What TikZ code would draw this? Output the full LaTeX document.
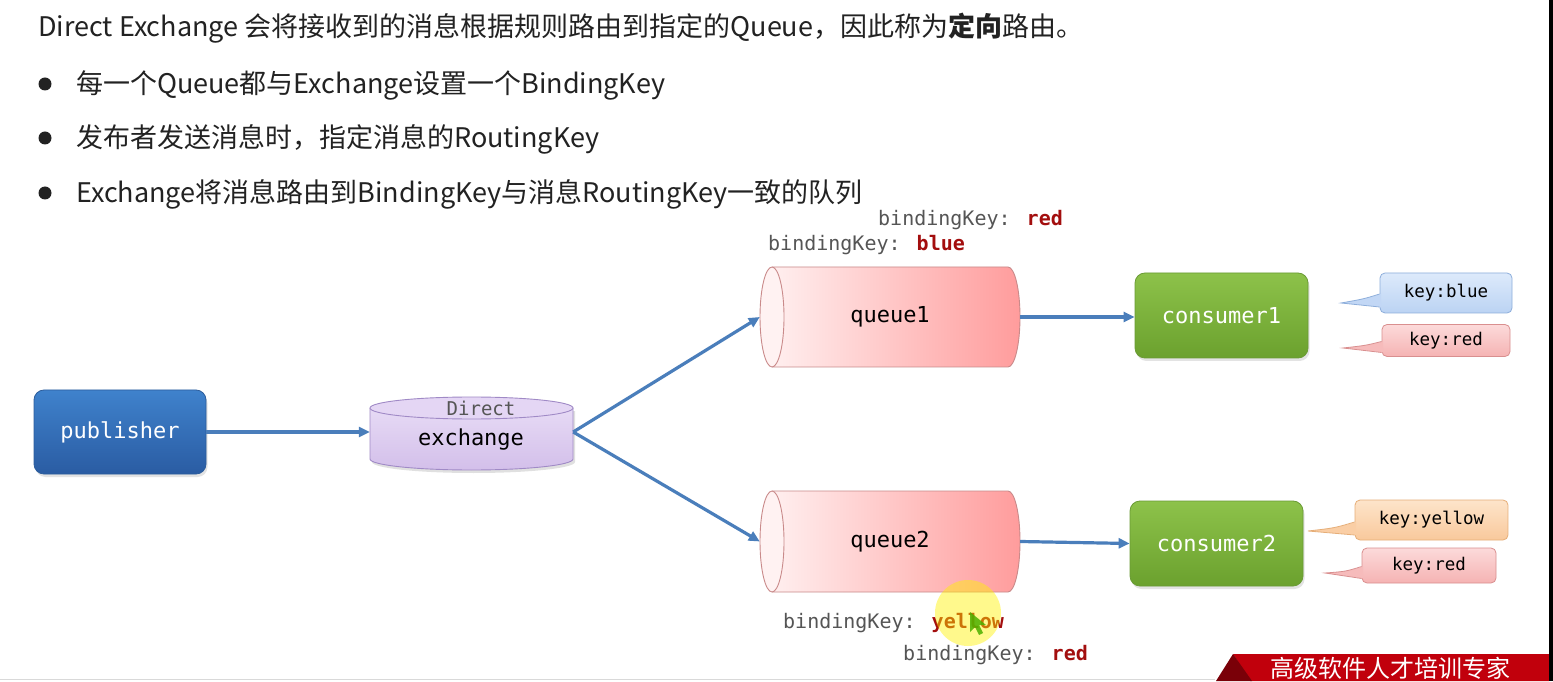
\documentclass[tikz,border=0pt]{standalone}
\usepackage{fontspec}
\setmainfont{Noto Sans CJK SC}
\newfontfamily\mono{DejaVu Sans Mono}
\usetikzlibrary{arrows.meta,calc,shadows}
\definecolor{txt}{HTML}{222222}
\definecolor{flowc}{HTML}{4A7EBB}
\definecolor{pubTop}{HTML}{3F82CC}
\definecolor{pubBot}{HTML}{2A5CA3}
\definecolor{pubBorder}{HTML}{2C5D9C}
\definecolor{conTop}{HTML}{8DC24A}
\definecolor{conBot}{HTML}{6BA12E}
\definecolor{conBorder}{HTML}{6A9B35}
\definecolor{exTop}{HTML}{EADFF7}
\definecolor{exBot}{HTML}{D3BFEA}
\definecolor{exFace}{HTML}{E4D6F4}
\definecolor{exBorder}{HTML}{A08AC6}
\definecolor{qLeft}{HTML}{FFF3F3}
\definecolor{qRight}{HTML}{FF9C9C}
\definecolor{qFace}{HTML}{FFF2F2}
\definecolor{qBorder}{HTML}{C98A8A}
\definecolor{kbTop}{HTML}{DDEAFB}
\definecolor{kbBot}{HTML}{BBD3F3}
\definecolor{kbBorder}{HTML}{8DAEDB}
\definecolor{krTop}{HTML}{FCDADA}
\definecolor{krBot}{HTML}{F5B3B3}
\definecolor{krBorder}{HTML}{D98F8F}
\definecolor{kyTop}{HTML}{FDE4CA}
\definecolor{kyBot}{HTML}{F9C99C}
\definecolor{kyBorder}{HTML}{E6AE78}
\definecolor{bkGray}{HTML}{555555}
\definecolor{bkRed}{HTML}{A30E0E}
\definecolor{bannerRed}{HTML}{C1000C}
\definecolor{bannerDark}{HTML}{7A0008}
\begin{document}
\begin{tikzpicture}[x=1pt,y=1pt,
  flow/.style={draw=flowc, line width=3.2pt, -{Triangle[length=11pt,width=10pt]}},
  bigtext/.style={anchor=base west, inner sep=0pt, text=txt, font=\fontsize{27}{31}\selectfont},
  bulletdot/.style={circle, fill=txt, minimum size=13pt, inner sep=0pt},
  softshadow/.style={drop shadow={opacity=0.22, shadow xshift=1.5pt, shadow yshift=-3pt}},
  pubbox/.style={rectangle, rounded corners=10pt, minimum width=172pt, minimum height=84pt,
     top color=pubTop, bottom color=pubBot, draw=pubBorder, line width=0.8pt, softshadow,
     text=white, font=\mono\fontsize{22}{26}\selectfont},
  conbox/.style={rectangle, rounded corners=10pt, minimum width=173pt, minimum height=85pt,
     top color=conTop, bottom color=conBot, draw=conBorder, line width=0.8pt, softshadow,
     text=white, font=\mono\fontsize{22}{26}\selectfont},
  qnode/.style={minimum width=260pt, minimum height=100pt, inner sep=0pt, text=black,
     font=\mono\fontsize{22}{26}\selectfont},
  keybox/.style={rectangle, rounded corners=5pt, line width=0.8pt, inner sep=0pt,
     text=black, font=\mono\fontsize{17.5}{21}\selectfont},
  bk/.style={anchor=west, inner sep=0pt, text=bkGray, font=\mono\fontsize{20}{24}\selectfont}
]
\useasboundingbox (0,0) rectangle (1553,681);
\fill[white] (0,0) rectangle (1553,681);

% heading and bullets
\node[bigtext] (title) at (38,644) {Direct Exchange 会将接收到的消息根据规则路由到指定的Queue，因此称为\textbf{定向}路由。};
\node[bulletdot] (d1) at (45,597) {};
\node[bulletdot] (d2) at (45,543) {};
\node[bulletdot] (d3) at (45,488) {};
\node[bigtext] (t1) at (76,587) {每一个Queue都与Exchange设置一个BindingKey};
\node[bigtext] (t2) at (76,533) {发布者发送消息时，指定消息的RoutingKey};
\node[bigtext] (t3) at (76,478) {Exchange将消息路由到BindingKey与消息RoutingKey一致的队列};

% publisher
\node[pubbox] (pub) at (120,249) {publisher};

% exchange cylinder
\fill[black, opacity=0.12] (372,270) -- (372,219) arc[start angle=180,end angle=360,x radius=101.5,y radius=11] -- (575,270) -- cycle;
\shade[top color=exTop, bottom color=exBot] (370,273) -- (370,222) arc[start angle=180,end angle=360,x radius=101.5,y radius=11] -- (573,273) arc[start angle=0,end angle=180,x radius=101.5,y radius=11] -- cycle;
\draw[exBorder, line width=0.9pt] (370,273) -- (370,222) arc[start angle=180,end angle=360,x radius=101.5,y radius=11] -- (573,273);
\draw[exBorder, line width=0.9pt, fill=exFace] (471.5,273) ellipse[x radius=101.5,y radius=11];
\node[minimum width=203pt, minimum height=76pt, inner sep=0pt] (ex) at (471.5,249) {};
\node[inner sep=0pt, text=bkGray, font=\mono\fontsize{19}{22}\selectfont] (exd) at (481,273) {Direct};
\node[inner sep=0pt, text=black, font=\mono\fontsize{22}{26}\selectfont] (exl) at (471,241) {exchange};

% queue1 cylinder
\shade[left color=qLeft, right color=qRight] (772,414) -- (1008,414) arc[start angle=90,end angle=-90,x radius=12,y radius=50] -- (772,314) arc[start angle=270,end angle=90,x radius=12,y radius=50] -- cycle;
\draw[qBorder, line width=0.9pt] (772,414) -- (1008,414) arc[start angle=90,end angle=-90,x radius=12,y radius=50] -- (772,314);
\draw[qBorder, line width=0.9pt, fill=qFace] (772,364) ellipse[x radius=12,y radius=50];
\node[qnode] (q1) at (890,364) {queue1};

% queue2 cylinder
\shade[left color=qLeft, right color=qRight] (772,190) -- (1008,190) arc[start angle=90,end angle=-90,x radius=12,y radius=50.5] -- (772,89) arc[start angle=270,end angle=90,x radius=12,y radius=50.5] -- cycle;
\draw[qBorder, line width=0.9pt] (772,190) -- (1008,190) arc[start angle=90,end angle=-90,x radius=12,y radius=50.5] -- (772,89);
\draw[qBorder, line width=0.9pt, fill=qFace] (772,139.5) ellipse[x radius=12,y radius=50.5];
\node[qnode] (q2) at (890,139.5) {queue2};

% consumers
\node[conbox] (c1) at (1221.5,365.5) {consumer1};
\node[conbox] (c2) at (1216.5,137.5) {consumer2};

% connectors
\draw[flow] (pub.east) -- (pub.east -| ex.west);
\draw[flow] (ex.east) -- (q1.west);
\draw[flow] (ex.east) -- (q2.west);
\draw[flow] (q1.east) -- (q1.east -| c1.west);
\draw[flow] (q2.east) -- (c2.west);

% key callouts
\node[keybox, top color=kbTop, bottom color=kbBot, draw=kbBorder, minimum width=132pt, minimum height=40pt] (kb) at (1446,388) {key:blue};
\node[keybox, top color=krTop, bottom color=krBot, draw=krBorder, minimum width=128pt, minimum height=32pt] (kr1) at (1446,340.5) {key:red};
\node[keybox, top color=kyTop, bottom color=kyBot, draw=kyBorder, minimum width=153pt, minimum height=40pt] (ky) at (1431.5,161) {key:yellow};
\node[keybox, top color=krTop, bottom color=krBot, draw=krBorder, minimum width=134pt, minimum height=35pt] (kr2) at (1429,115.5) {key:red};

\coordinate (tb) at (1341,378);
\coordinate (tr1) at (1343,333);
\coordinate (ty) at (1308,150);
\coordinate (tr2) at (1325,108);

\fill[kbBot!80!kbTop] ($(kb.west)+(1.5,-1)$) .. controls ($(kb.west)+(-16,-6)$) .. (tb) -- ($(kb.west)+(1.5,-14)$) -- cycle;
\draw[kbBorder, line width=0.8pt] ($(kb.west)+(0,-1)$) .. controls ($(kb.west)+(-16,-6)$) .. (tb) -- ($(kb.west)+(0,-14)$);
\fill[krBot!80!krTop] ($(kr1.west)+(1.5,-1)$) .. controls ($(kr1.west)+(-16,-5)$) .. (tr1) -- ($(kr1.west)+(1.5,-12)$) -- cycle;
\draw[krBorder, line width=0.8pt] ($(kr1.west)+(0,-1)$) .. controls ($(kr1.west)+(-16,-5)$) .. (tr1) -- ($(kr1.west)+(0,-12)$);
\fill[kyBot!80!kyTop] ($(ky.west)+(1.5,-2)$) .. controls ($(ky.west)+(-20,-8)$) .. (ty) -- ($(ky.west)+(1.5,-15)$) -- cycle;
\draw[kyBorder, line width=0.8pt] ($(ky.west)+(0,-2)$) .. controls ($(ky.west)+(-20,-8)$) .. (ty) -- ($(ky.west)+(0,-15)$);
\fill[krBot!80!krTop] ($(kr2.west)+(1.5,-1)$) .. controls ($(kr2.west)+(-16,-6)$) .. (tr2) -- ($(kr2.west)+(1.5,-13)$) -- cycle;
\draw[krBorder, line width=0.8pt] ($(kr2.west)+(0,-1)$) .. controls ($(kr2.west)+(-16,-6)$) .. (tr2) -- ($(kr2.west)+(0,-13)$);

% binding keys
\node[bk] (bk1) at (878,461) {bindingKey: \textbf{\color{bkRed}red}};
\node[bk] (bk2) at (768,436) {bindingKey: \textbf{\color{bkRed}blue}};
\node[bk] (bk3) at (783,58) {bindingKey: \textbf{\color{bkRed}yellow}};
\node[bk] (bk4) at (903,26) {bindingKey: \textbf{\color{bkRed}red}};

% cursor highlight
\fill[yellow, opacity=0.45] (968,68) circle (33);
\fill[green!55!black!70!yellow, opacity=0.85] (970,69) -- (970,49) -- (975,54) -- (979,46) -- (983,48) -- (979,56) -- (986,56) -- cycle;

% bottom line and banner
\draw[gray!30, line width=1pt] (0,1.5) -- (1215,1.5);
\fill[bannerRed] (1233,27) -- (1549,27) -- (1549,0) -- (1250,0) -- cycle;
\fill[bannerDark] (1216,0) -- (1233,27) -- (1252,0) -- cycle;
\node[anchor=base west, inner sep=0pt, text=white, font=\fontsize{24}{28}\selectfont] (banner) at (1270,3.5) {高级软件人才培训专家};
\fill[black] (1549,0) rectangle (1553,681);
\end{tikzpicture}
\end{document}
